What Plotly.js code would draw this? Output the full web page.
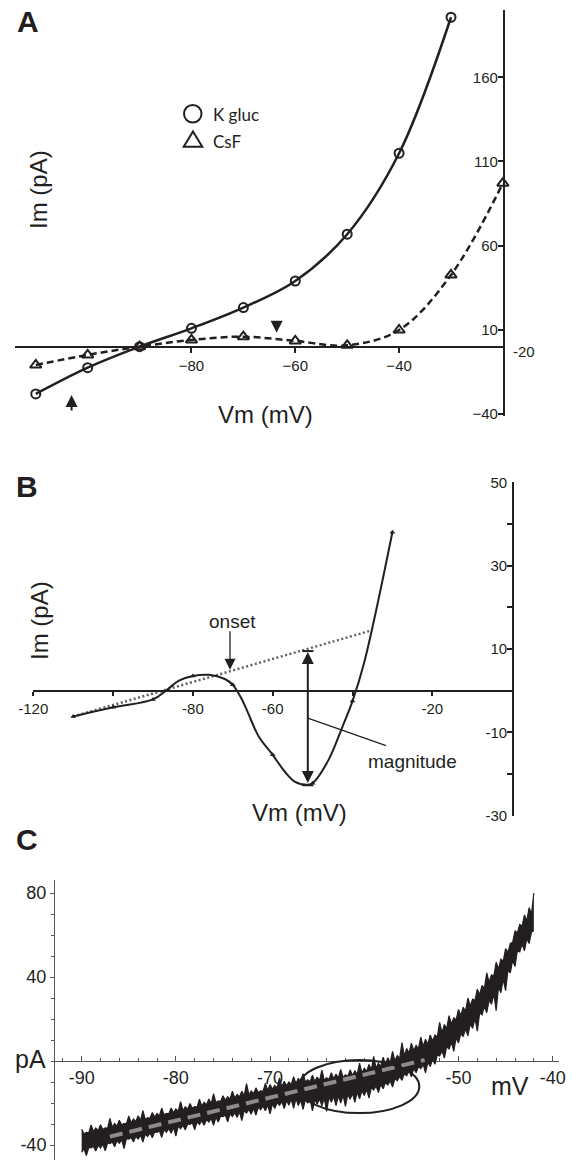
<!DOCTYPE html>
<html><head><meta charset="utf-8">
<script src="https://cdn.plot.ly/plotly-3.0.1.min.js"></script>
<style>html,body{margin:0;padding:0;background:#fff;overflow:hidden}#chart{width:572px;height:1160px}</style>
</head><body><div id="chart"></div>
<script>
// ---------- Panel A data ----------
const vmKgluc = [-110,-100,-90,-80,-70,-60,-50,-40,-30];
const imKgluc = [-28.1,-12.5,0,10.9,23.2,39,66.8,114.9,195.7];
const vmCsF = [-110,-100,-90,-80,-70,-60,-50,-40,-30,-20];
const imCsF = [-10.9,-4.9,0,4,5.9,3.4,0.8,9.9,42.6,97.1];
const tickValsAx = [-80,-60,-40];
const tickValsAy = [160,110,60,10,-40];

// ---------- Panel B data ----------
const vmB = [-110,-100,-90,-86.5,-83.5,-80,-76,-72,-70,-68,-66.5,-63.5,-60,-57,-54.5,-51.5,-50,-46,-42.5,-40,-37,-30];
const imB = [-6.2,-4.0,-2.1,0.2,2.4,3.5,3.8,2.8,1.4,-1.6,-4.6,-11,-15.4,-19.4,-21.8,-22.6,-22.2,-16.6,-8.6,-2.5,7,38];
const markerVmB = [-110,-100,-90,-80,-70,-60,-50,-40,-30];
const leakVmB = [-110,-35.8];
const leakImB = [-6.2,14.3];
const onsetVm = -70.7, onsetIm = 5.0;
const magVm = -51.2, magTop = 9.3, magBottom = -22.5;
const tickValsBx = [-120,-100,-80,-60,-40,-20];
const tickTextBx = ['-120','','-80','-60','','-20'];
const tickValsBy = [-30,-20,-10,0,10,20,30,40,50];
const tickTextBy = ['-30','','-10','','10','','30','','50'];

// ---------- Panel C data (noisy ramp trace: upper / lower edges of the noise band) ----------
const vmC = [
 -90,-89.75,-89.5,-89.25,-89,-88.75,-88.5,-88.25,-88,-87.75,-87.5,-87.25,-87,-86.75,-86.5,-86.25,-86,-85.75,-85.5,-85.25,
 -85,-84.75,-84.5,-84.25,-84,-83.75,-83.5,-83.25,-83,-82.75,-82.5,-82.25,-82,-81.75,-81.5,-81.25,-81,-80.75,-80.5,-80.25,
 -80,-79.75,-79.5,-79.25,-79,-78.75,-78.5,-78.25,-78,-77.75,-77.5,-77.25,-77,-76.75,-76.5,-76.25,-76,-75.75,-75.5,-75.25,
 -75,-74.75,-74.5,-74.25,-74,-73.75,-73.5,-73.25,-73,-72.75,-72.5,-72.25,-72,-71.75,-71.5,-71.25,-71,-70.75,-70.5,-70.25,
 -70,-69.75,-69.5,-69.25,-69,-68.75,-68.5,-68.25,-68,-67.75,-67.5,-67.25,-67,-66.75,-66.5,-66.25,-66,-65.75,-65.5,-65.25,
 -65,-64.75,-64.5,-64.25,-64,-63.75,-63.5,-63.25,-63,-62.75,-62.5,-62.25,-62,-61.75,-61.5,-61.25,-61,-60.75,-60.5,-60.25,
 -60,-59.75,-59.5,-59.25,-59,-58.75,-58.5,-58.25,-58,-57.75,-57.5,-57.25,-57,-56.75,-56.5,-56.25,-56,-55.75,-55.5,-55.25,
 -55,-54.75,-54.5,-54.25,-54,-53.75,-53.5,-53.25,-53,-52.75,-52.5,-52.25,-52,-51.75,-51.5,-51.25,-51,-50.75,-50.5,-50.25,
 -50,-49.75,-49.5,-49.25,-49,-48.75,-48.5,-48.25,-48,-47.75,-47.5,-47.25,-47,-46.75,-46.5,-46.25,-46,-45.75,-45.5,-45.25,
 -45,-44.75,-44.5,-44.25,-44,-43.75,-43.5,-43.25,-43,-42.75,-42.5,-42.25,-42];
const upperC = [
 -32.5,-34.75,-34.0,-34.2,-30.4,-33.65,-31.9,-33.15,-30.4,-32.6,-31.8,-32.05,-27.3,-31.55,-29.8,-31.0,-28.2,-30.45,-29.7,-29.95,
 -26.2,-29.4,-27.6,-28.85,-26.1,-28.35,-23.6,-27.8,-27.0,-27.25,-24.5,-26.75,-25.0,-26.2,-22.4,-25.65,-24.9,-25.15,-22.4,-24.6,
 -22.8,-24.05,-19.3,-23.55,-21.8,-23.0,-20.2,-22.45,-21.7,-21.95,-18.2,-21.4,-19.6,-20.85,-18.1,-20.35,-15.6,-19.8,-19.0,-19.25,
 -16.5,-18.75,-17.0,-18.2,-14.4,-17.65,-15.9,-17.15,-14.4,-16.6,-10.8,-16.05,-14.3,-15.55,-12.8,-15.0,-14.2,-14.45,-10.7,-13.95,
 -11.2,-13.4,-11.6,-12.85,-8.1,-12.35,-9.6,-11.8,-10.0,-11.25,-7.5,-10.85,-8.2,-10.1,-6.0,-10.0,-9.0,-9.9,-6.8,-9.7,
 -7.6,-9.45,-4.3,-9.15,-8.0,-8.8,-5.6,-8.4,-6.2,-8.1,-4.0,-7.8,-6.6,-7.4,-4.2,-6.95,-4.7,-6.35,-1.0,-5.7,
 -3.4,-5.0,-1.6,-4.2,2.2,-3.4,-1.0,-2.6,1.8,-1.8,1.6,-0.9,4.6,0.1,2.6,1.2,8.8,2.4,6.0,3.75,
 8.5,4.95,7.4,5.9,11.4,6.9,10.4,7.9,12.4,9.4,12.4,11.4,18.4,13.4,17.4,15.5,21.6,17.6,20.6,19.6,
 24.6,21.6,25.6,23.8,30,26.25,29.5,28.85,34.2,31.6,36,34.5,42,37.5,41,40.5,47,43.75,48.5,47.5,
 53.5,51.75,56,56.5,62,61,65,64.25,69.5,66.75,73,70,80];
const lowerC = [
 -43.5,-41.75,-45.0,-41.2,-41.4,-40.65,-42.9,-40.15,-41.4,-39.6,-42.8,-39.05,-39.3,-38.55,-40.8,-38.0,-39.2,-37.45,-41.7,-36.95,
 -37.2,-36.4,-38.6,-35.85,-37.1,-35.35,-38.6,-34.8,-36.0,-34.25,-36.5,-33.75,-34.0,-33.2,-36.4,-32.65,-33.9,-32.15,-34.4,-31.6,
 -35.8,-31.05,-32.3,-30.55,-32.8,-30.0,-30.2,-29.45,-32.7,-28.95,-30.2,-28.4,-30.6,-27.85,-29.1,-27.35,-30.6,-26.8,-29.0,-26.25,
 -26.5,-25.75,-29.0,-25.2,-26.4,-24.65,-26.9,-24.15,-28.4,-23.6,-24.8,-23.05,-25.3,-22.55,-25.8,-22.0,-23.2,-21.45,-23.7,-20.95,
 -25.2,-20.4,-22.6,-19.85,-21.1,-19.35,-22.6,-18.8,-21.0,-18.25,-22.5,-17.85,-21.2,-18.6,-23.0,-18.5,-20.0,-18.4,-23.8,-18.2,
 -20.6,-17.95,-21.3,-17.65,-24.0,-17.3,-19.6,-16.9,-21.2,-16.6,-20.0,-16.3,-21.6,-15.9,-18.2,-15.45,-19.7,-14.85,-18.0,-14.2,
 -16.4,-13.5,-17.6,-12.7,-13.8,-11.9,-15.0,-11.1,-13.2,-10.3,-11.4,-9.4,-12.4,-8.4,-9.4,-7.3,-9.2,-6.1,-7.0,-4.75,
 -7.5,-3.55,-5.6,-2.6,-3.6,-1.6,-5.6,-0.6,-2.6,0.9,-1.6,2.9,2.4,4.9,1.4,7.0,5.6,9.1,4.6,11.1,
 8.6,13.1,11.6,15.3,12,17.75,15.5,20.35,14.2,23.1,22,26.0,23,29.0,27,32.0,24,35.25,32.5,39.0,
 33.5,43.25,42,48.0,45,52.5,52,55.75,52.5,58.25,56,61.5,62];
const fitVmC = [-87,-53.6];
const fitImC = [-36,0.5];
const tickValsCx = [-90,-80,-70,-60,-50,-40];
const tickTextCx = ['-90','-80','-70','','-50','-40'];
const tickValsCy = [-40,0,40,80];
const tickTextCy = ['-40','','40','80'];

// ---------- geometry helpers ----------
const W = 572, H = 1160;
const fx = p => p / W;
const fy = p => 1 - p / H;
const zeroPos = (dom, rng) => dom[0] + (0 - rng[0]) / (rng[1] - rng[0]) * (dom[1] - dom[0]);
const INK = '#231f20';
const SANS = 'Liberation Sans, Arial, sans-serif';

const domAx = [fx(15), fx(502.9)], rngAx = [-114, -20];
const domAy = [fy(416), fy(10)], rngAy = [-41.2, 200];
const domBx = [fx(33.3), fx(512.1)], rngBx = [-120, 0];
const domBy = [fy(815.7), fy(482.3)], rngBy = [-30, 50];
const domCx = [fx(55), fx(559)], rngCx = [-92.83, -39.33];
const domCy = [fy(1160), fy(880)], rngCy = [-47.14, 86.2];

const markerImB = markerVmB.map(v => imB[vmB.indexOf(v)]);

const traces = [
  {x: vmKgluc, y: imKgluc, xaxis:'x', yaxis:'y', mode:'lines+markers', cliponaxis:false,
   line:{color:INK, width:2.5, shape:'spline'},
   marker:{symbol:'circle-open', size:9, color:INK, line:{width:2, color:INK}}},
  {x: vmCsF, y: imCsF, xaxis:'x', yaxis:'y', mode:'lines+markers', cliponaxis:false,
   line:{color:INK, width:2.5, shape:'spline', dash:'7px,4px'},
   marker:{symbol:'triangle-up-open', size:10, color:INK, line:{width:2, color:INK}}},

  {x: leakVmB, y: leakImB, xaxis:'x2', yaxis:'y2', mode:'lines', cliponaxis:false,
   line:{color:'#5f6062', width:2.5, dash:'2px,2.5px'}},
  {x: vmB, y: imB, xaxis:'x2', yaxis:'y2', mode:'lines', cliponaxis:false,
   line:{color:INK, width:2, shape:'spline'}},
  {x: markerVmB, y: markerImB, xaxis:'x2', yaxis:'y2', mode:'markers', cliponaxis:false,
   marker:{symbol:'triangle-up', size:5, color:INK}},

  {x: vmC, y: lowerC, xaxis:'x3', yaxis:'y3', mode:'lines', line:{color:INK, width:1.2}},
  {x: vmC, y: upperC, xaxis:'x3', yaxis:'y3', mode:'lines', line:{color:INK, width:1.2},
   fill:'tonexty', fillcolor:INK},
  {x: fitVmC, y: fitImC, xaxis:'x3', yaxis:'y3', mode:'lines',
   line:{color:'#8c8c8c', width:4, dash:'13px,7px'}}
];

const tickFont = s => ({family:SANS, size:s, color:INK});

const minorCx = []; for (let v = -92; v <= -40; v += 2) minorCx.push(v);
const minorCy = []; for (let v = -40; v <= 80; v += 10) minorCy.push(v);

// paper-positioned text label (centred on the given pixel position)
const label = (text, x, y, size, extra) => Object.assign({
  text, xref:'paper', yref:'paper', x:fx(x), y:fy(y), xanchor:'center', yanchor:'middle',
  showarrow:false, font:{family:SANS, size, color:INK}}, extra || {});

const layout = {
  width: W, height: H, margin:{l:0,r:0,t:0,b:0,pad:0,autoexpand:false},
  paper_bgcolor:'#fff', plot_bgcolor:'rgba(0,0,0,0)', showlegend:false,
  font:{family:SANS, color:INK},
  xaxis:{domain:domAx, range:rngAx, anchor:'free', position:zeroPos(domAy, rngAy), automargin:false,
    showline:true, linecolor:INK, linewidth:2, showgrid:false, zeroline:false,
    tickmode:'array', tickvals:tickValsAx, ticks:'outside', ticklen:5, tickwidth:2, tickcolor:INK,
    tickfont:tickFont(15), ticklabeloverflow:'allow'},
  yaxis:{domain:domAy, range:rngAy, anchor:'x', side:'right', automargin:false,
    showline:true, linecolor:INK, linewidth:2, showgrid:false, zeroline:false,
    tickmode:'array', tickvals:tickValsAy, ticks:'inside', ticklen:5, tickwidth:2, tickcolor:INK,
    ticklabelposition:'inside', ticklabeloverflow:'allow', tickfont:tickFont(15)},

  xaxis2:{domain:domBx, range:rngBx, anchor:'free', position:zeroPos(domBy, rngBy), automargin:false,
    showline:true, linecolor:INK, linewidth:2, showgrid:false, zeroline:false,
    tickmode:'array', tickvals:tickValsBx, ticktext:tickTextBx, ticks:'outside', ticklen:4, tickwidth:2, tickcolor:INK,
    tickfont:tickFont(15), ticklabeloverflow:'allow'},
  yaxis2:{domain:domBy, range:rngBy, anchor:'x2', side:'right', automargin:false,
    showline:true, linecolor:INK, linewidth:2, showgrid:false, zeroline:false,
    tickmode:'array', tickvals:tickValsBy, ticktext:tickTextBy, ticks:'inside', ticklen:5, tickwidth:2, tickcolor:INK,
    ticklabelposition:'inside', ticklabeloverflow:'allow', tickfont:tickFont(15)},

  xaxis3:{domain:domCx, range:rngCx, anchor:'free', position:zeroPos(domCy, rngCy), layer:'below traces', automargin:false,
    showline:true, linecolor:'#555', linewidth:1, showgrid:false, zeroline:false,
    tickmode:'array', tickvals:tickValsCx, ticktext:tickTextCx, ticks:'inside', ticklen:5, tickwidth:1, tickcolor:'#555',
    minor:{tickmode:'array', tickvals:minorCx, ticks:'inside', ticklen:3, tickwidth:1, tickcolor:'#555', showgrid:false},
    tickfont:tickFont(18), ticklabeloverflow:'allow'},
  yaxis3:{domain:domCy, range:rngCy, anchor:'x3', side:'left', layer:'below traces', automargin:false,
    showline:true, linecolor:'#555', linewidth:1, showgrid:false, zeroline:false,
    tickmode:'array', tickvals:tickValsCy, ticktext:tickTextCy, ticks:'outside', ticklen:4, tickwidth:1, tickcolor:'#555',
    minor:{tickmode:'array', tickvals:minorCy, ticks:'outside', ticklen:3, tickwidth:1, tickcolor:'#555', showgrid:false},
    tickfont:tickFont(18), ticklabeloverflow:'allow'},

  shapes:[
    {type:'circle', xref:'paper', yref:'paper', x0:fx(184), x1:fx(201.5), y0:fy(122.5), y1:fy(105), line:{color:INK, width:2}},
    {type:'path', xref:'paper', yref:'paper',
     path:`M ${fx(193)},${fy(131.5)} L ${fx(202.3)},${fy(146.8)} L ${fx(183.7)},${fy(146.8)} Z`, line:{color:INK, width:2}},
    {type:'line', xref:'x2', yref:'y2', x0:magVm-1.4, x1:magVm+1.4, y0:magTop+0.2, y1:magTop+0.2, line:{color:INK, width:2}},
    {type:'line', xref:'x2', yref:'y2', x0:magVm-1.4, x1:magVm+1.4, y0:magBottom-0.2, y1:magBottom-0.2, line:{color:INK, width:2}},
    {type:'line', xref:'x2', yref:'y2', x0:magVm, x1:-31.6, y0:-6.6, y1:-13.2, line:{color:INK, width:1.2}},
    {type:'circle', xref:'x3', yref:'y3', x0:-66.93, x1:-54.16, y0:-24.8, y1:0.5, line:{color:INK, width:2}}
  ],

  annotations:[
    label('<b>A</b>', 28, 22, 30),
    label('<b>B</b>', 27, 486, 30),
    label('<b>C</b>', 27, 839, 30),

    label('Im (pA)', 39, 190, 24, {textangle:-90}),
    label('Vm (mV)', 265.5, 414, 24),
    label('-20', 524, 351.7, 15),
    label('K gluc', 211, 114, 17, {xanchor:'left', font:{family:'Lato, Open Sans, sans-serif', size:17, color:INK}}),
    label('CsF', 211, 142, 17, {xanchor:'left', font:{family:'Lato, Open Sans, sans-serif', size:17, color:INK}}),
    {text:'', xref:'x', yref:'y', x:-103.1, y:-28.7, axref:'x', ayref:'y', ax:-103.1, ay:-38.8,
     showarrow:true, arrowhead:2, arrowsize:1.2, arrowwidth:2, arrowcolor:INK},
    {text:'', xref:'x', yref:'y', x:-63.6, y:8.3, axref:'x', ayref:'y', ax:-63.6, ay:16.2,
     showarrow:true, arrowhead:2, arrowsize:1.2, arrowwidth:2, arrowcolor:INK},

    label('Im (pA)', 39, 621, 24, {textangle:-90}),
    label('Vm (mV)', 299.7, 812, 24),
    label('onset', 232, 621.5, 19),
    label('magnitude', 412.7, 761.7, 19),
    {text:'', xref:'x2', yref:'y2', x:onsetVm, y:onsetIm, axref:'x2', ayref:'y2', ax:onsetVm, ay:14.6,
     showarrow:true, arrowhead:2, arrowsize:1.7, arrowwidth:1.3, arrowcolor:INK},
    {text:'', xref:'x2', yref:'y2', x:magVm, y:magTop, axref:'x2', ayref:'y2', ax:magVm, ay:magBottom,
     showarrow:true, arrowside:'end+start', arrowhead:2, startarrowhead:2, arrowsize:1.2, startarrowsize:1.2, arrowwidth:2, arrowcolor:INK},

    label('pA', 30, 1059, 25),
    label('mV', 510, 1086, 25)
  ]
};

Plotly.newPlot('chart', traces, layout, {displayModeBar:false, staticPlot:true});
</script>
</body></html>
